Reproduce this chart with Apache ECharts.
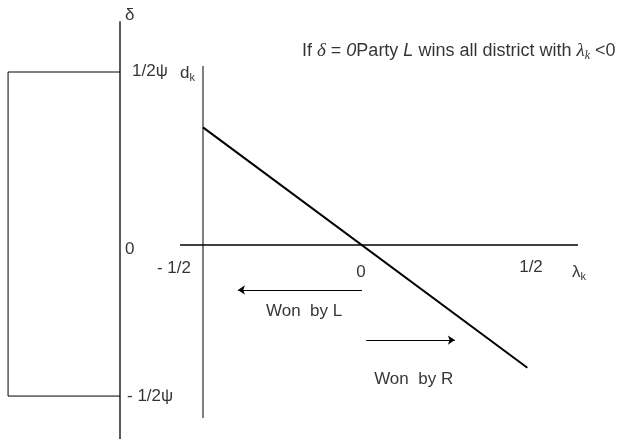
<!DOCTYPE html>
<html>
<head>
<meta charset="utf-8">
<script src="https://cdn.jsdelivr.net/npm/echarts@6/dist/echarts.min.js"></script>
<style>
  html, body { margin: 0; padding: 0; background: #ffffff; }
  #chart { width: 617px; height: 439px; }
</style>
</head>
<body>
<div id="chart"></div>
<script>
// λk ticks on the horizontal axis and their labels
const lambdaTicks = [-0.5, 0, 0.5];
const lambdaTickLabels = ['- 1/2', '0', '1/2'];

// Levels marked on the δ axis: 1/2ψ, 0, -1/2ψ
const deltaLevels = [0.544, 0, -0.475];
const deltaLabels = ['1/2ψ', '0', '- 1/2ψ'];

// d_k as a function of λk (end points of the falling line)
const dkLambda = [-0.5, 0.52];
const dkValues = [0.37, -0.386];

// Direction arrows under the λ axis: [from λ, to λ, level]
const arrowWonByL = [0, -0.39, -0.1415];
const arrowWonByR = [0.013, 0.292, -0.299];

// ---- layout (data units: one unit = 318 px, origin where λ=0, d=0) ----
const UNIT = 318, ORIGIN_X = 362, ORIGIN_Y = 245, W = 617, H = 439;
const xMin = -ORIGIN_X / UNIT, xMax = (W - ORIGIN_X) / UNIT;
const yMin = -(H - ORIGIN_Y) / UNIT, yMax = ORIGIN_Y / UNIT;

const deltaAxisX = -0.761;
const boxLeftX = -1.113;
const dAxisTop = 0.563, dAxisBottom = -0.544;
const lambdaAxisFrom = -0.572, lambdaAxisTo = 0.679;

const FONT = 'Liberation Sans, Arial, sans-serif';
const SERIF = 'Liberation Serif, Times New Roman, serif';
const FS = 17;
const FS_NOTE = 18;

const richBase = {
  n: { fontFamily: FONT, fontSize: FS, color: '#000' },
  s: { fontFamily: FONT, fontSize: 11, color: '#000', padding: [10, 0, 0, 0], verticalAlign: 'bottom' },
  t: { fontFamily: FONT, fontSize: FS_NOTE, color: '#000' },
  mi: { fontFamily: SERIF, fontStyle: 'italic', fontSize: FS_NOTE + 1, color: '#000' },
  ni: { fontFamily: FONT, fontStyle: 'italic', fontSize: FS_NOTE, color: '#000' },
  si: { fontFamily: SERIF, fontStyle: 'italic', fontSize: 12, color: '#000', padding: [10, 0, 0, 0], verticalAlign: 'bottom' }
};

function textItem(x, y, text, align, offset) {
  return {
    value: [x, y],
    label: {
      show: true,
      position: 'inside',
      align: align,
      verticalAlign: 'middle',
      offset: offset || [0, 0],
      formatter: text,
      rich: richBase
    }
  };
}

const labelData = [];
// λ tick labels
const lambdaOffsets = [[-12, 23], [-1, 27], [10, 22]];
const lambdaAligns = ['right', 'center', 'center'];
lambdaTicks.forEach((t, i) => {
  labelData.push(textItem(t, 0, '{n|' + lambdaTickLabels[i] + '}', lambdaAligns[i], lambdaOffsets[i]));
});
// δ axis labels
const deltaOffsets = [[12, -1], [5, 4], [7, 0]];
deltaLevels.forEach((v, i) => {
  labelData.push(textItem(deltaAxisX, v, '{n|' + deltaLabels[i] + '}', 'left', deltaOffsets[i]));
});
// axis titles
labelData.push(textItem(deltaAxisX, yMax, '{n|δ}', 'left', [5, 15]));
labelData.push(textItem(-0.5, dAxisTop, '{n|d}{s|k}', 'left', [-23, 7]));
labelData.push(textItem(lambdaAxisTo, 0, '{n|λ}{s|k}', 'left', [-6, 27]));
// region notes
labelData.push(textItem(arrowWonByL[0], arrowWonByL[2], '{n|Won  by L}', 'left', [-96, 21]));
labelData.push(textItem(arrowWonByR[0], arrowWonByR[2], '{n|Won  by R}', 'left', [8, 39]));
labelData.push(textItem(0, yMax,
  '{t|If }{mi|δ}{t| = }{ni|0}{t|Party }{ni|L}{t| wins all district with }{mi|λ}{si|k}{t| <0}',
  'left', [-60, 51]));

function seg(points, color, width) {
  return {
    type: 'line',
    data: points,
    symbol: 'none',
    clip: false,
    silent: true,
    lineStyle: { color: color, width: width },
    z: 2
  };
}

const chart = echarts.init(document.getElementById('chart'), null, { renderer: 'canvas' });
chart.setOption({
  animation: false,
  backgroundColor: '#ffffff',
  grid: { left: 0, right: 0, top: 0, bottom: 0 },
  xAxis: { type: 'value', min: xMin, max: xMax, show: false },
  yAxis: { type: 'value', min: yMin, max: yMax, show: false },
  series: [
    // δ axis
    seg([[deltaAxisX, 0.704], [deltaAxisX, yMin]], '#000', 1.3),
    // bracket spanning 1/2ψ to -1/2ψ
    seg([[deltaAxisX, deltaLevels[0]], [boxLeftX, deltaLevels[0]], [boxLeftX, deltaLevels[2]], [deltaAxisX, deltaLevels[2]]], '#000', 1),
    // d_k axis
    seg([[-0.5, dAxisTop], [-0.5, dAxisBottom]], '#808080', 2),
    // λk axis
    seg([[lambdaAxisFrom, 0], [lambdaAxisTo, 0]], '#000', 1.3),
    // d_k line
    seg(dkLambda.map((l, i) => [l, dkValues[i]]), '#000', 2),
    {
      type: 'lines',
      coordinateSystem: 'cartesian2d',
      silent: true,
      symbol: ['none', 'arrow'],
      symbolSize: 7,
      lineStyle: { color: '#000', width: 1, opacity: 1 },
      data: [
        { coords: [[arrowWonByL[0], arrowWonByL[2]], [arrowWonByL[1], arrowWonByL[2]]] },
        { coords: [[arrowWonByR[0], arrowWonByR[2]], [arrowWonByR[1], arrowWonByR[2]]] }
      ]
    },
    {
      type: 'scatter',
      symbolSize: 0,
      silent: true,
      clip: false,
      data: labelData,
      z: 5
    }
  ]
});
</script>
</body>
</html>
